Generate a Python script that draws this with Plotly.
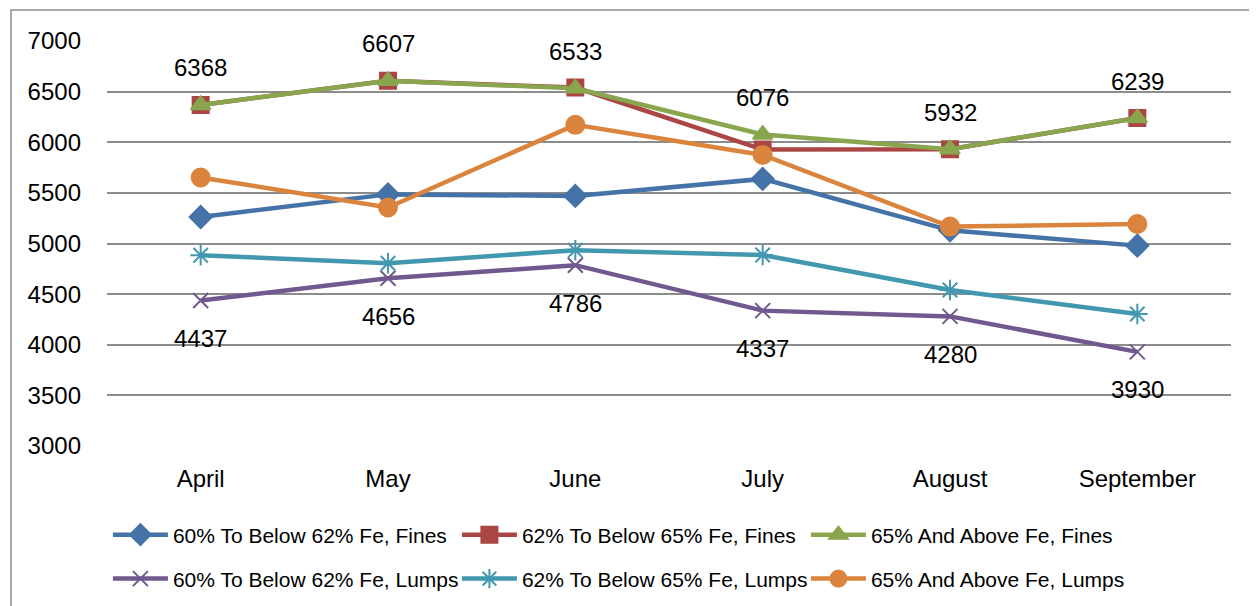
import plotly.graph_objects as go

# meses e valores
months = ['April', 'May', 'June', 'July', 'August', 'September']

fines_60_62 = [5262, 5485, 5470, 5638, 5130, 4979]
fines_62_65 = [6368, 6607, 6540, 5928, 5932, 6239]
fines_65_up = [6368, 6607, 6533, 6076, 5932, 6239]
lumps_60_62 = [4437, 4656, 4786, 4337, 4280, 3930]
lumps_62_65 = [4884, 4805, 4934, 4887, 4541, 4304]
lumps_65_up = [5652, 5356, 6172, 5875, 5167, 5193]

y_ticks = [3000, 3500, 4000, 4500, 5000, 5500, 6000, 6500, 7000]

series = [
    ('60% To Below 62% Fe, Fines', fines_60_62, '#4572A7', 'diamond', 17, 'legend'),
    ('62% To Below 65% Fe, Fines', fines_62_65, '#AA4643', 'square', 16, 'legend'),
    ('65% And Above Fe, Fines', fines_65_up, '#89A54E', 'triangle-up', 17, 'legend'),
    ('60% To Below 62% Fe, Lumps', lumps_60_62, '#71588F', 'x-thin-open', 15, 'legend2'),
    ('62% To Below 65% Fe, Lumps', lumps_62_65, '#4198AF', 'asterisk-open', 17, 'legend2'),
    ('65% And Above Fe, Lumps', lumps_65_up, '#DB843D', 'circle', 18, 'legend2'),
]

fig = go.Figure()

for name, vals, color, symbol, size, leg in series:
    fig.add_trace(go.Scatter(
        x=months, y=vals, name=name, mode='lines+markers',
        line=dict(color=color, width=4.5),
        marker=dict(symbol=symbol, size=size, color=color,
                    line=dict(color=color, width=2)),
        legend=leg,
    ))

# rotulos acima da serie verde e abaixo da roxa
for m, v in zip(months, fines_65_up):
    fig.add_annotation(x=m, y=v, text=str(v), showarrow=False, yshift=37,
                       font=dict(size=24, color='black'))
for m, v in zip(months, lumps_60_62):
    fig.add_annotation(x=m, y=v, text=str(v), showarrow=False, yshift=-38,
                       font=dict(size=24, color='black'))

# borda externa do grafico
fig.add_shape(type='rect', xref='paper', yref='paper',
              x0=-0.0854, x1=1.03, y0=-0.5, y1=1.0765,
              line=dict(color='#8c8c8c', width=1.5))

legend_style = dict(orientation='h', xanchor='left', yanchor='middle',
                    xref='container', yref='container',
                    font=dict(family='Liberation Sans, Arial', size=21, color='black'),
                    itemwidth=55, entrywidth=279, entrywidthmode='pixels',
                    bgcolor='rgba(0,0,0,0)')

fig.update_layout(
    width=1249, height=598,
    paper_bgcolor='white', plot_bgcolor='white',
    margin=dict(l=99, r=26, t=33, b=160, autoexpand=False),
    font=dict(family='Liberation Sans, Arial', size=24, color='black'),
    xaxis=dict(range=[-0.5, 5.5], showgrid=False, showline=False, ticks='',
               ticklabelstandoff=16, tickfont=dict(size=24)),
    yaxis=dict(range=[3000, 7000], tickvals=y_ticks, showgrid=True,
               gridcolor='#8c8c8c', gridwidth=1.5, zeroline=False, showline=False,
               ticklabelstandoff=25, tickfont=dict(size=24)),
    legend=dict(x=0.080, y=0.1187, **legend_style),
    legend2=dict(x=0.080, y=0.0452, **legend_style),
)

fig.write_html('out.html')
